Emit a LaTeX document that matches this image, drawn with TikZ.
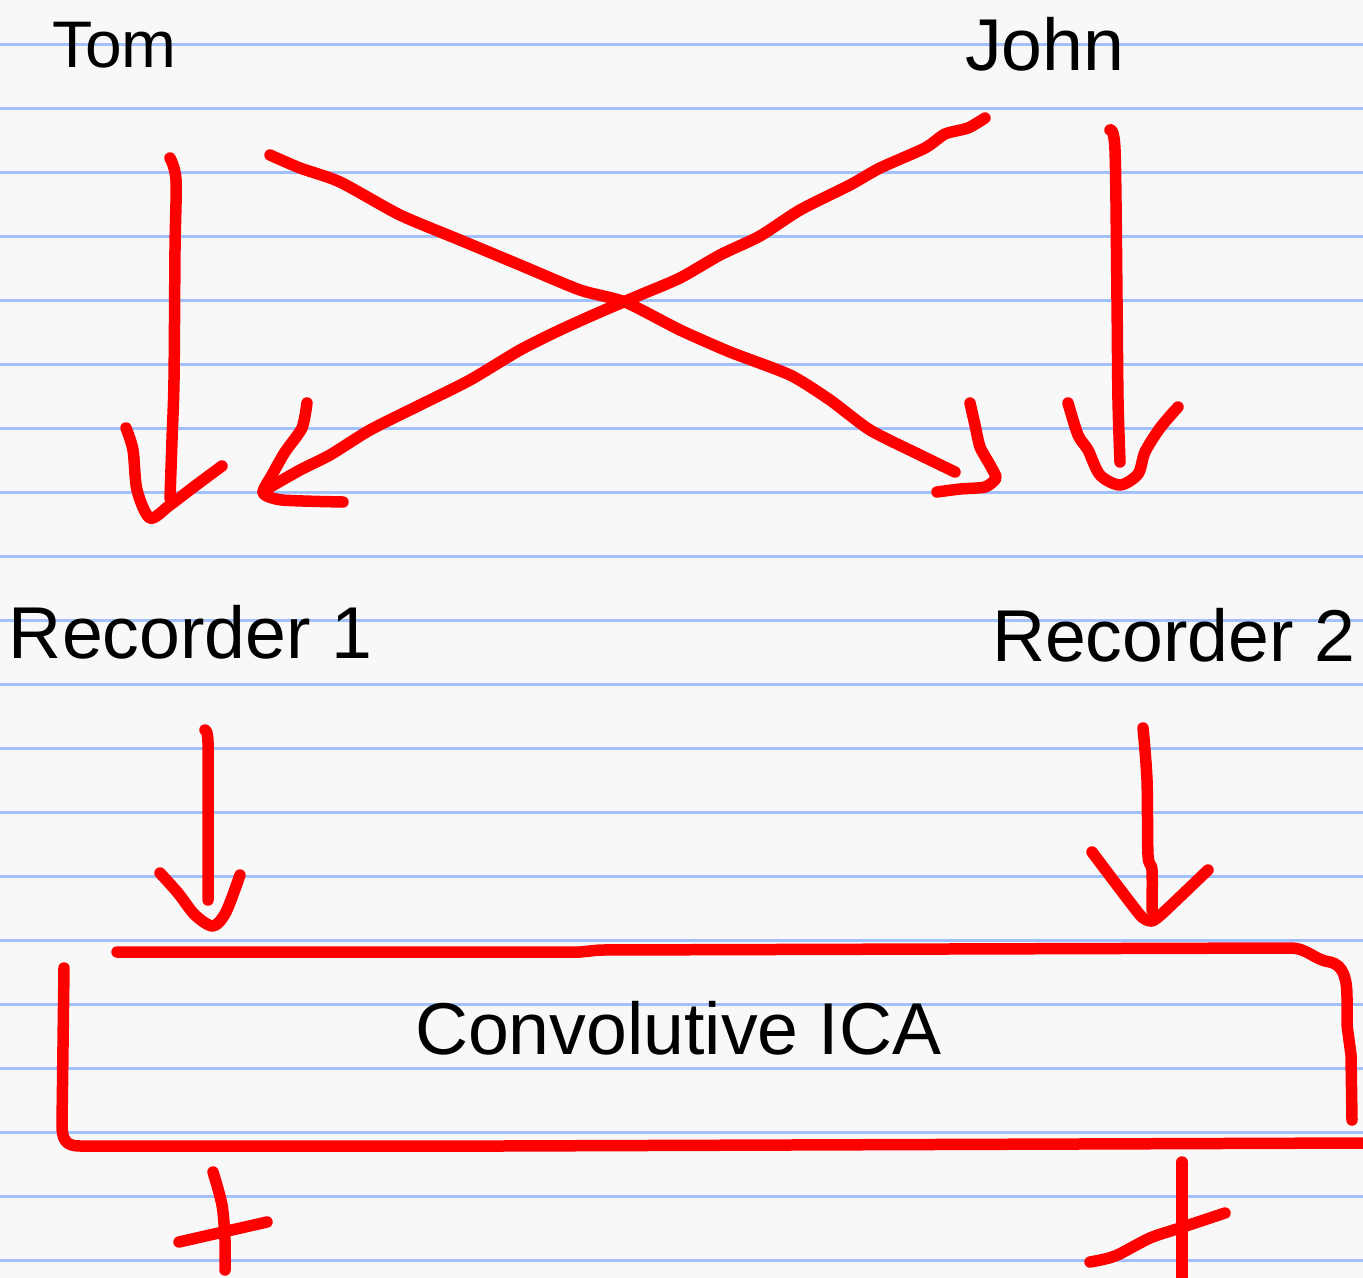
\documentclass[tikz,border=0pt]{standalone}
\usepackage{fontspec}
\setmainfont{Liberation Sans}
\begin{document}
\begin{tikzpicture}[x=0.02cm,y=-0.02cm,
  rule/.style={line width=0.06cm,draw=ruleblue},
  pen/.style={line width=0.23cm,draw=red,line cap=round,line join=round},
  lbl/.style={anchor=base west,inner sep=0pt,outer sep=0pt,text=black,font=\fontsize{41.8}{42}\selectfont},
  small/.style={font=\fontsize{37.5}{38}\selectfont}]
\definecolor{ruleblue}{RGB}{162,192,250}
\definecolor{paper}{RGB}{248,248,248}
\fill[paper] (0,0) rectangle (1363,1278);
\useasboundingbox (0,0) rectangle (1363,1278);
% ruled lines
\foreach \k in {0,...,19}{
  \draw[rule] (0,{44+64*\k}) -- (1363,{44+64*\k});
}
% labels
\node[lbl,small] (tom) at (52,67) {Tom};
\node[lbl] (john) at (965,70) {John};
\node[lbl] (rec1) at (9,658) {Recorder 1};
\node[lbl] (rec2) at (992,661) {Recorder 2};
\node[lbl] (ica) at (415,1054) {Convolutive ICA};
% Tom -> Recorder 1
\draw[pen] plot[smooth] coordinates {(170,158) (176,180) (175,250) (174,380) (172,440) (170,498)};
\draw[pen] plot[smooth] coordinates {(126,428) (133,450) (137,490) (150,518) (170,505) (195,486) (222,466)};
% Tom -> Recorder 2
\draw[pen] plot[smooth,tension=0.4] coordinates {(270,155) (300,168) (340,182) (400,215) (460,240) (520,265) (580,290) (625,302) (680,330) (730,352) (790,375) (830,400) (870,430) (920,455) (955,472)};
\draw[pen] plot[smooth,tension=0.4] coordinates {(970,403) (975,425) (980,447) (990,465) (996,478) (985,487) (960,489) (937,492)};
% John -> Recorder 1
\draw[pen] plot[smooth,tension=0.4] coordinates {(985,118) (968,128) (945,134) (925,148) (880,168) (850,185) (800,210) (760,236) (720,255) (680,278) (640,295) (600,312) (560,330) (520,350) (470,380) (420,405) (370,430) (330,455) (300,470) (265,490)};
\draw[pen] plot[smooth,tension=0.4] coordinates {(307,403) (302,428) (285,452) (272,475) (263,493) (282,500) (343,502)};
% John -> Recorder 2
\draw[pen] plot[smooth] coordinates {(1110,130) (1115,150) (1117,300) (1118,400) (1120,462)};
\draw[pen] plot[smooth,tension=0.5] coordinates {(1068,403) (1078,435) (1088,450) (1100,475) (1120,485) (1138,474) (1145,452) (1160,428) (1178,407)};
% Recorder 1 -> ICA
\draw[pen] plot[smooth] coordinates {(205,730) (208,742) (208,820) (208,900)};
\draw[pen] plot[smooth,tension=0.5] coordinates {(160,873) (178,893) (195,915) (213,926) (226,912) (240,875)};
% Recorder 2 -> ICA
\draw[pen] plot[smooth] coordinates {(1143,728) (1147,780) (1148,855) (1152,870) (1152,910)};
\draw[pen] plot[smooth,tension=0.3] coordinates {(1092,852) (1140,915) (1152,921) (1164,912) (1208,870)};
% ICA box
\draw[pen] (117,952) -- (580,952) -- (600,950) -- (1290,948)
  .. controls (1308,948) and (1314,960) .. (1330,962)
  .. controls (1344,965) and (1347,980) .. (1347,998)
  -- (1347,1025) -- (1351,1055) -- (1352,1120);
\draw[pen] (64,968) -- (62,1125) .. controls (62,1140) and (66,1146) .. (80,1146)
  -- (500,1146) -- (1363,1143);
% outputs
\draw[pen] plot[smooth] coordinates {(213,1172) (222,1205) (225,1240) (225,1270)};
\draw[pen] (179,1242) -- (267,1222);
\draw[pen] (1182,1162) -- (1182,1285);
\draw[pen] plot[smooth] coordinates {(1090,1262) (1115,1256) (1150,1238) (1180,1228) (1225,1213)};
\end{tikzpicture}
\end{document}
